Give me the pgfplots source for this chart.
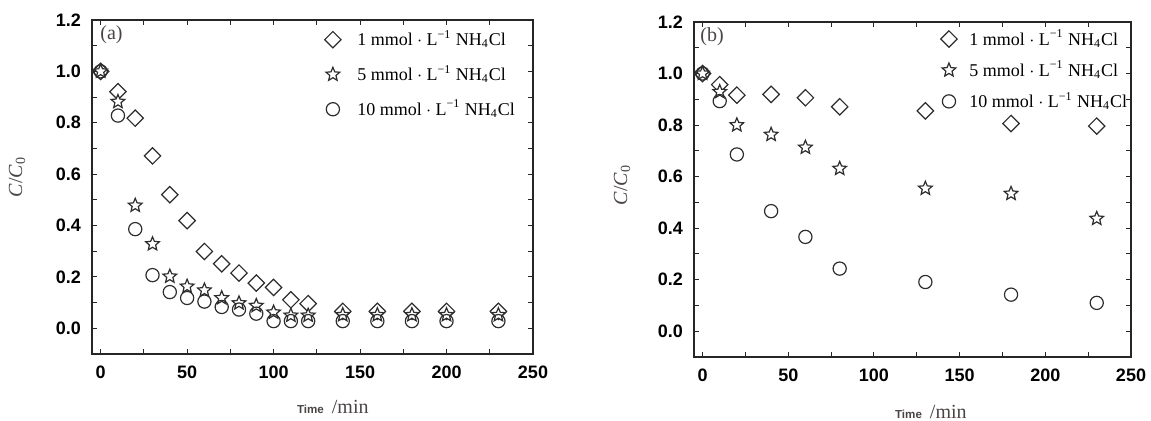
\documentclass[border=0pt]{standalone}
\usepackage{pgfplots}
\pgfplotsset{compat=1.18}
\usepackage{fontspec}
\setmainfont{Liberation Serif}
\newfontfamily\arialfont{Liberation Sans}
\definecolor{labgray}{RGB}{75,68,68}
\definecolor{markgray}{RGB}{45,45,45}

\newcommand{\leg}[1]{#1~mmol\hspace{2.2pt}$\cdot$\hspace{2.2pt}L\textsuperscript{−1} NH\textsubscript{4}Cl}

% open five-pointed star
\pgfdeclareplotmark{ostar}{%
  \pgfpathmoveto{\pgfpointpolar{90}{\pgfplotmarksize}}%
  \pgfpathlineto{\pgfpointpolar{126}{0.45\pgfplotmarksize}}%
  \pgfpathlineto{\pgfpointpolar{162}{\pgfplotmarksize}}%
  \pgfpathlineto{\pgfpointpolar{198}{0.45\pgfplotmarksize}}%
  \pgfpathlineto{\pgfpointpolar{234}{\pgfplotmarksize}}%
  \pgfpathlineto{\pgfpointpolar{270}{0.45\pgfplotmarksize}}%
  \pgfpathlineto{\pgfpointpolar{306}{\pgfplotmarksize}}%
  \pgfpathlineto{\pgfpointpolar{342}{0.45\pgfplotmarksize}}%
  \pgfpathlineto{\pgfpointpolar{18}{\pgfplotmarksize}}%
  \pgfpathlineto{\pgfpointpolar{54}{0.45\pgfplotmarksize}}%
  \pgfpathclose
  \pgfusepathqfillstroke
}

\pgfplotsset{
  panel/.style={
    scale only axis,
    anchor=south west,
    xmin=-5, xmax=250,
    ymin=-0.1, ymax=1.2,
    xtick={0,50,...,250},
    ytick={0,0.2,...,1.2},
    minor x tick num=1,
    minor y tick num=1,
    tick align=inside,
    major tick length=2.5pt,
    minor tick length=2.5pt,
    axis line style={line width=0.6pt, black!85},
    every tick/.style={line width=0.5pt, black!85},
    tick label style={font=\arialfont\bfseries\fontsize{9}{10}\selectfont},
    /pgf/number format/assume math mode=true,
    yticklabel={\pgfmathprintnumber[fixed,fixed zerofill,precision=1]{\tick}},
    xticklabel style={yshift=-2.5pt},
    yticklabel style={xshift=-2pt},
    clip=false,
    legend cell align=left,
    legend style={draw=none, fill=none, font=\fontsize{9}{10}\selectfont,
      inner sep=0pt, nodes={inner sep=0pt}},
  },
  legimg/.style={legend image code/.code={%
      \path (-4.5pt,0pt) (#1,0pt);
      \draw[##1] plot coordinates {(0pt,0pt)};}},
  dia/.style={only marks, mark=square, mark size=2.9pt, mark options={rotate=45, line width=0.6pt, draw=markgray, fill=white}},
  sta/.style={only marks, mark=ostar, mark size=3.6pt, mark options={line width=0.6pt, draw=markgray, fill=white}},
  cir/.style={only marks, mark=o, mark size=3.3pt, mark options={line width=0.6pt, draw=markgray, fill=white}},
}

\begin{document}
\begin{tikzpicture}
\useasboundingbox (0,0) rectangle (575.5pt,210.5pt);

% panel (a)
\begin{axis}[panel, at={(46pt,33.5pt)}, width=220.5pt, height=167pt,
    legimg=12pt,
    legend style={at={(rel axis cs:0.524,0.97)}, anchor=north west, row sep=8.1pt}]
\addplot[dia] coordinates {
  (0,1.0) (10,0.921) (20,0.818) (30,0.671) (40,0.52) (50,0.419) (60,0.299)
  (70,0.251) (80,0.215) (90,0.176) (100,0.159) (110,0.111) (120,0.096)
  (140,0.066) (160,0.066) (180,0.066) (200,0.066) (230,0.066)};
\addlegendentry{\leg{1}}
\addplot[sta] coordinates {
  (0,1.0) (10,0.882) (20,0.478) (30,0.328) (40,0.202) (50,0.163) (60,0.148)
  (70,0.118) (80,0.098) (90,0.088) (100,0.062) (110,0.05) (120,0.05)
  (140,0.052) (160,0.052) (180,0.052) (200,0.052) (230,0.052)};
\addlegendentry{\leg{5}}
\addplot[cir] coordinates {
  (0,1.0) (10,0.828) (20,0.386) (30,0.207) (40,0.141) (50,0.118) (60,0.104)
  (70,0.083) (80,0.073) (90,0.057) (100,0.028) (110,0.028) (120,0.028)
  (140,0.028) (160,0.028) (180,0.028) (200,0.028) (230,0.028)};
\addlegendentry{\leg{10}}
\node[anchor=west, inner sep=0pt, font=\fontsize{10}{12}\selectfont, text=labgray]
  at ([xshift=4pt,yshift=-7.5pt]rel axis cs:0,1) {(a)};
\node[rotate=90, inner sep=0pt, text=labgray, font=\fontsize{10}{12}\selectfont]
  at ([xshift=-37.5pt]rel axis cs:0,0.53) {\textit{C}/\textit{C}\textsubscript{0}};
\node[inner sep=0pt, text=labgray]
  at ([yshift=-26.5pt]rel axis cs:0.546,0)
  {{\arialfont\bfseries\fontsize{5.8}{7}\selectfont Time}\hspace{4pt}{\fontsize{10}{12}\selectfont/min}};
\end{axis}

% panel (b)
\begin{axis}[panel, at={(347pt,32pt)}, width=218.5pt, height=167.5pt,
    legimg=10pt,
    legend style={at={(rel axis cs:0.561,0.978)}, anchor=north west, row sep=6.3pt}]
\addplot[dia] coordinates {
  (0,1.0) (10,0.957) (20,0.916) (40,0.919) (60,0.906) (80,0.871)
  (130,0.855) (180,0.806) (230,0.796)};
\addlegendentry{\leg{1}}
\addplot[sta] coordinates {
  (0,1.0) (10,0.929) (20,0.80) (40,0.763) (60,0.713) (80,0.631)
  (130,0.554) (180,0.534) (230,0.437)};
\addlegendentry{\leg{5}}
\addplot[cir] coordinates {
  (0,1.0) (10,0.893) (20,0.686) (40,0.466) (60,0.366) (80,0.243)
  (130,0.191) (180,0.142) (230,0.110)};
\addlegendentry{\leg{10}}
\node[anchor=west, inner sep=0pt, font=\fontsize{10}{12}\selectfont, text=labgray]
  at ([xshift=3pt,yshift=-7.5pt]rel axis cs:0,1) {(b)};
\node[rotate=90, inner sep=0pt, text=labgray, font=\fontsize{10}{12}\selectfont]
  at ([xshift=-36pt]rel axis cs:0,0.513) {\textit{C}/\textit{C}\textsubscript{0}};
\node[inner sep=0pt, text=labgray]
  at ([yshift=-27.5pt]rel axis cs:0.542,0)
  {{\arialfont\bfseries\fontsize{5.8}{7}\selectfont Time}\hspace{4pt}{\fontsize{10}{12}\selectfont/min}};
\end{axis}
\end{tikzpicture}
\end{document}
